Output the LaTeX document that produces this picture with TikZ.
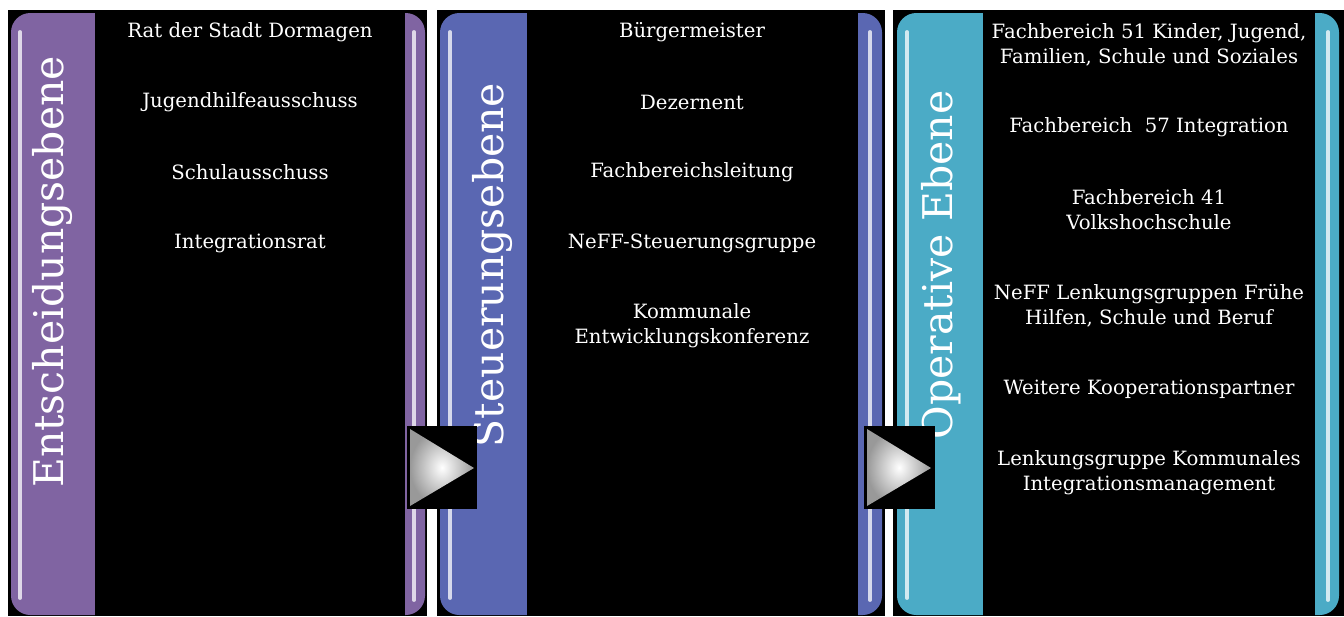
\documentclass[tikz,border=0pt]{standalone}
\usepackage{fontspec}
\setmainfont{DejaVu Serif}
\definecolor{entpurple}{HTML}{8064A2}
\definecolor{steublue}{HTML}{5A67B2}
\definecolor{opteal}{HTML}{4BABC6}
\begin{document}
\begin{tikzpicture}[x=0.02cm, y=-0.02cm,
    item/.style={text=white, align=center, inner sep=0pt, font=\fontsize{11.2}{14.2}\selectfont},
    level/.style={text=white, rotate=90, anchor=base, inner sep=0pt, font=\fontsize{23.3}{28}\selectfont},
    gloss/.style={line width=2.2pt, line cap=round}]
    \useasboundingbox[fill=white] (0,0) rectangle (1344,616);
    % black panels
    \fill[black] (8,10) rectangle (427,616);
    \fill[black] (437,10) rectangle (885,616);
    \fill[black] (893,10) rectangle (1344,616);
    % coloured bars
    \fill[entpurple, rounded corners=11pt] (11,13) rectangle (425,615);
    \fill[steublue, rounded corners=11pt] (440,13) rectangle (882,615);
    \fill[opteal, rounded corners=11pt] (897,13) rectangle (1339,615);
    \fill[black] (95,10) rectangle (405,616);
    \fill[black] (527,10) rectangle (858,616);
    \fill[black] (983,10) rectangle (1315,616);
    % gloss
    \draw[gloss, entpurple!25!white] (20,32) -- (20,598);
    \draw[gloss, entpurple!25!white] (414,32) -- (414,600);
    \draw[gloss, steublue!25!white] (450,32) -- (450,598);
    \draw[gloss, steublue!25!white] (870,32) -- (870,600);
    \draw[gloss, opteal!25!white] (907,32) -- (907,598);
    \draw[gloss, opteal!25!white] (1328,32) -- (1328,600);
    % level titles
    \node[level] (ent) at (63,272) {Entscheidungsebene};
    \node[level] (steu) at (503,265) {Steuerungsebene};
    \node[level] (oper) at (952,265) {Operative Ebene};
    % Entscheidungsebene
    \node[item] (rat) at (250,32) {Rat der Stadt Dormagen};
    \node[item] (jha) at (250,102) {Jugendhilfeausschuss};
    \node[item] (sa) at (250,172) {Schulausschuss};
    \node[item] (ir) at (250,243) {Integrationsrat};
    % Steuerungsebene
    \node[item] (bm) at (692,32) {Bürgermeister};
    \node[item] (dez) at (692,102) {Dezernent};
    \node[item] (fbl) at (692,172) {Fachbereichsleitung};
    \node[item] (neffsg) at (692,243) {NeFF-Steuerungsgruppe};
    \node[item] (kek) at (692,326) {Kommunale\\Entwicklungskonferenz};
    % Operative Ebene
    \node[item] (fb51) at (1149,45) {Fachbereich 51 Kinder, Jugend,\\Familien, Schule und Soziales};
    \node[item] (fb57) at (1149,127) {Fachbereich\ \ 57 Integration};
    \node[item] (fb41) at (1149,210) {Fachbereich 41\\Volkshochschule};
    \node[item] (nefflg) at (1149,306) {NeFF Lenkungsgruppen Frühe\\Hilfen, Schule und Beruf};
    \node[item] (wkp) at (1149,389) {Weitere Kooperationspartner};
    \node[item] (lgki) at (1149,473) {Lenkungsgruppe Kommunales\\Integrationsmanagement};
    % arrows
    \fill[black] (407,426) rectangle (477,509);
    \shade[inner color=white, outer color=gray!80] (410,429) -- (474,468) -- (410,506) -- cycle;
    \fill[black] (864,426) rectangle (935,509);
    \shade[inner color=white, outer color=gray!80] (867,429) -- (931,468) -- (867,506) -- cycle;
\end{tikzpicture}
\end{document}
